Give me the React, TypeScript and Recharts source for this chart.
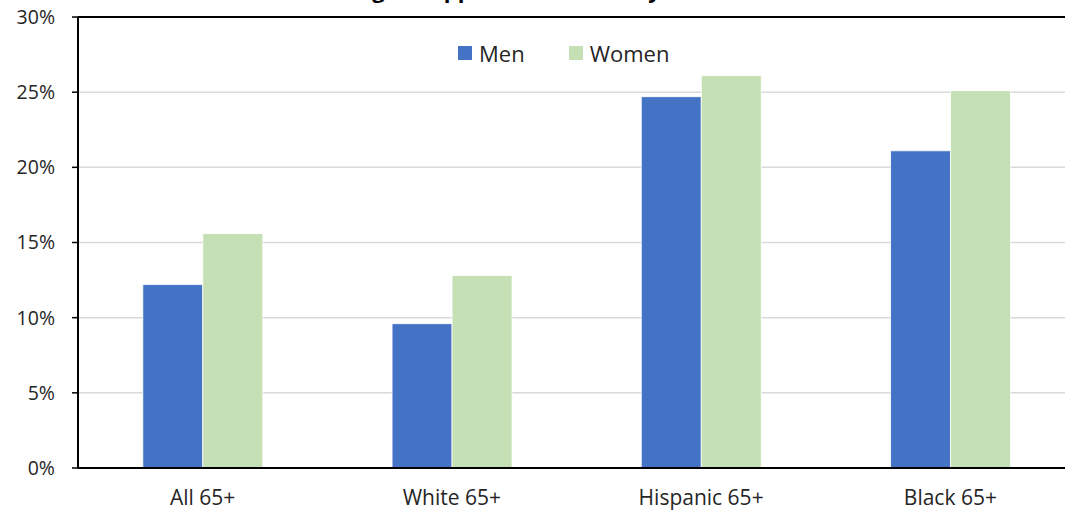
import React from "react";
import { BarChart, Bar, XAxis, YAxis, CartesianGrid, Legend, ReferenceLine } from "recharts";

const categories = ["All 65+", "White 65+", "Hispanic 65+", "Black 65+"];
const menValues = [12.2, 9.6, 24.7, 21.1];
const womenValues = [15.6, 12.8, 26.1, 25.1];
const yTicks = [0, 5, 10, 15, 20, 25, 30];
const titleText = "Older Adults Living in Supplemental Poverty";

const seriesKeys = ["Men", "Women"];
const seriesColors = ["#4472C4", "#C5E0B4"];

const data = categories.map((c, i) => ({ name: c, Men: menValues[i], Women: womenValues[i] }));

const FONT = "'Open Sans', sans-serif";

const LegendContent = () => (
  <div style={{ display: "flex", alignItems: "center", fontFamily: FONT, fontSize: 22, color: "#262626", lineHeight: "28px" }}>
    {seriesKeys.map((k, i) => (
      <div key={k} style={{ display: "flex", alignItems: "center", marginRight: 44 }}>
        <span style={{ display: "inline-block", width: 14, height: 14, background: seriesColors[i], marginRight: 7 }} />
        <span>{k}</span>
      </div>
    ))}
  </div>
);

export default function App() {
  return (
    <div style={{ position: "fixed", top: 0, left: 0, width: 1065, height: 515, overflow: "hidden", background: "#fff" }}>
      <style>{`html,body{overflow:hidden;scrollbar-width:none;}::-webkit-scrollbar{display:none;width:0;height:0;}`}</style>
      <div
        style={{
          position: "absolute",
          top: -26,
          left: 176,
          whiteSpace: "nowrap",
          fontFamily: FONT,
          fontWeight: 700,
          fontSize: 22,
          lineHeight: "30px",
          color: "#000",
        }}
      >
        {titleText}
      </div>
      <BarChart
        width={1100}
        height={515}
        data={data}
        margin={{ top: 17, right: 25, left: 0, bottom: 0 }}
        barCategoryGap="26%"
        barGap={0}
      >
        <CartesianGrid horizontal vertical={false} stroke="#D9D9D9" strokeWidth={1.5} />
        <XAxis
          dataKey="name"
          axisLine={{ stroke: "#000", strokeWidth: 2 }}
          tickLine={false}
          height={47}
          tickMargin={16}
          tick={{ fill: "#262626", fontSize: 21, fontFamily: FONT }}
        />
        <YAxis
          domain={[0, 30]}
          ticks={yTicks}
          width={78}
          interval={0}
          tickFormatter={(v: number) => `${v}%`}
          axisLine={{ stroke: "#000", strokeWidth: 2 }}
          tickLine={{ stroke: "#000", strokeWidth: 1.5 }}
          tickSize={6}
          tickMargin={17}
          tick={{ fill: "#262626", fontSize: 19.5, fontFamily: FONT }}
        />
        <ReferenceLine y={30} stroke="#000" strokeWidth={2} />
        <Legend
          layout="horizontal"
          verticalAlign="middle"
          align="center"
          wrapperStyle={{ position: "absolute", top: 39, left: 458, width: 300 }}
          content={() => <LegendContent />}
        />
        <Bar dataKey="Men" fill="#4472C4" stroke="#ffffff" strokeWidth={0.8} isAnimationActive={false} />
        <Bar dataKey="Women" fill="#C5E0B4" stroke="#ffffff" strokeWidth={0.8} isAnimationActive={false} />
      </BarChart>
    </div>
  );
}
